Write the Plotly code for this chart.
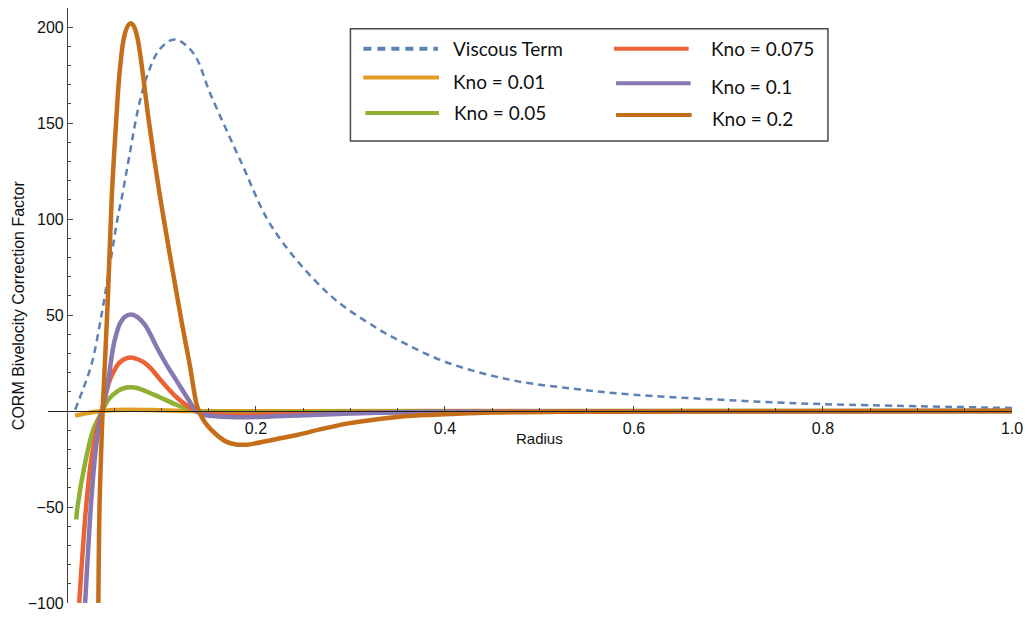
import plotly.graph_objects as go

# ---- Data: CORM bivelocity correction factor vs. radius ----
visc_r = [0.0087, 0.0168, 0.0263, 0.0368, 0.0456, 0.0543, 0.058, 0.0656, 0.0754, 0.0849,
          0.0982, 0.114, 0.1333, 0.1526, 0.1842, 0.2175, 0.277, 0.326, 0.351, 0.4,
          0.47, 0.54, 0.6, 0.68, 0.751, 0.8, 1.0]
visc_y = [0.7, 11.0, 24.8, 50.6, 76.5, 102.3, 111.0, 131.6, 157.5, 174.7,
          188.5, 193.6, 186.8, 164.3, 129.9, 95.5, 61.0, 43.8, 36.9, 25.7,
          16.2, 11.4, 8.5, 6.2, 4.5, 3.6, 1.6]

kno001_r = [0.0087, 0.02, 0.03, 0.0375, 0.05, 0.0677, 0.09, 0.137, 0.2, 0.4, 1.0]
kno001_y = [-2.4, -1.2, -0.4, 0.0, 0.5, 0.7, 0.5, 0.0, -0.1, 0.0, 0.0]

kno005_r = [0.0098, 0.0112, 0.0193, 0.028, 0.0375, 0.0438, 0.054, 0.060, 0.0677, 0.075,
            0.0842, 0.0982, 0.1158, 0.1355, 0.145, 0.16, 0.2, 0.3, 0.5, 1.0]
kno005_y = [-56.5, -50.0, -26.9, -9.6, 0.0, 5.9, 10.5, 11.9, 12.4, 11.9,
            10.2, 7.2, 3.3, 0.0, -0.5, -0.6, -0.7, -0.3, -0.05, 0.0]

kno0075_r = [0.013, 0.0203, 0.0253, 0.0316, 0.037, 0.0456, 0.050, 0.0543, 0.060, 0.0677,
             0.075, 0.082, 0.090, 0.098, 0.107, 0.116, 0.128, 0.1355, 0.143, 0.155,
             0.2, 0.28, 0.4, 1.0]
kno0075_y = [-100.0, -50.0, -26.9, -9.6, 0.0, 16.4, 21.0, 24.5, 26.9, 27.9,
             27.0, 25.2, 21.6, 16.8, 11.8, 7.2, 2.5, 0.0, -1.1, -1.6,
             -1.9, -1.0, -0.3, 0.0]

kno01_r = [0.0193, 0.0253, 0.0291, 0.0333, 0.0372, 0.0438, 0.049, 0.0525, 0.056, 0.0605,
           0.0677, 0.075, 0.0824, 0.0885, 0.0947, 0.105, 0.1158, 0.1285, 0.1345, 0.139,
           0.145, 0.16, 0.19, 0.25, 0.32, 0.4, 0.6, 1.0]
kno01_y = [-100.0, -50.0, -26.9, -9.6, 0.0, 16.4, 33.4, 40.5, 45.5, 48.8,
           50.3, 48.8, 45.0, 39.8, 33.6, 24.5, 16.0, 6.0, 1.5, -0.6,
           -1.9, -2.8, -3.2, -2.2, -1.0, -0.4, -0.1, 0.0]

kno02_r = [0.0333, 0.0345, 0.0362, 0.0378, 0.0431, 0.0474, 0.052, 0.0555, 0.0598, 0.063,
           0.0655, 0.0677, 0.070, 0.0725, 0.075, 0.0775, 0.080, 0.087, 0.0975, 0.1105,
           0.1214, 0.130, 0.1375, 0.141, 0.147, 0.158, 0.168, 0.179, 0.19, 0.2,
           0.22, 0.2456, 0.27, 0.298, 0.33, 0.36, 0.4, 0.45, 0.52, 0.6,
           0.8, 1.0]
kno02_y = [-100.0, -50.0, -22.0, 0.0, 56.0, 111.0, 150.0, 175.0, 193.0, 199.2,
           201.4, 202.0, 201.2, 198.4, 193.5, 186.0, 177.0, 150.0, 115.0, 77.0,
           46.5, 24.0, 3.0, -1.5, -6.5, -12.2, -15.8, -17.4, -17.5, -16.8,
           -14.8, -12.2, -9.3, -6.4, -4.2, -2.6, -1.6, -0.8, -0.4, -0.2,
           -0.05, 0.0]

series = [
    ("Viscous Term", visc_r, visc_y, "#5E81B5", 2.5, "7px,5px"),
    ("Kno = 0.01", kno001_r, kno001_y, "#E19C24", 4.5, "solid"),
    ("Kno = 0.05", kno005_r, kno005_y, "#8FB032", 4.5, "solid"),
    ("Kno = 0.075", kno0075_r, kno0075_y, "#EB6235", 4.5, "solid"),
    ("Kno = 0.1", kno01_r, kno01_y, "#8778B3", 4.5, "solid"),
    ("Kno = 0.2", kno02_r, kno02_y, "#C56E1A", 4.5, "solid"),
]

x_major = [0.2, 0.4, 0.6, 0.8, 1.0]
x_major_text = ["0.2", "0.4", "0.6", "0.8", "1.0"]
y_major = [-100, -50, 50, 100, 150, 200]
y_major_text = ["\u2212100", "\u221250", "50", "100", "150", "200"]

X_RANGE = [-0.02, 1.0]
Y_RANGE = [-100, 210]

# ---- Figure geometry (pixels) ----
W, H = 1031, 620
ML, MR, MT, MB = 48, 14, 8, 12
PW, PH = W - ML - MR, H - MT - MB


def paper(px, py):
    """Pixel position on the page -> paper coordinates."""
    return (px - ML) / PW, (H - MB - py) / PH


fig = go.Figure()
for name, r, y, color, width, dash in series:
    fig.add_trace(go.Scatter(
        x=r, y=y, mode="lines", name=name,
        line=dict(color=color, width=width, dash=dash, shape="spline", smoothing=1.0),
        showlegend=False, hoverinfo="skip",
    ))

# minor tick positions (every 0.05 on x, every 10 on y, major ones excluded)
x_minor = [k * 0.05 for k in range(1, 20) if k % 4 != 0]
y_minor = [v for v in range(-90, 210, 10) if v % 50 != 0]

tick_font = dict(family="Liberation Sans, Arial, sans-serif", size=16, color="#111111")
axis_col = "#444444"

fig.update_layout(
    width=W, height=H,
    margin=dict(l=ML, r=MR, t=MT, b=MB, pad=0),
    paper_bgcolor="white", plot_bgcolor="white",
    xaxis=dict(
        range=X_RANGE, anchor="free",
        position=(0 - Y_RANGE[0]) / (Y_RANGE[1] - Y_RANGE[0]),
        showgrid=False, zeroline=False,
        showline=True, linecolor="#222222", linewidth=1,
        tickmode="array", tickvals=x_major, ticktext=x_major_text,
        ticks="inside", ticklen=5, tickwidth=1, tickcolor=axis_col,
        tickfont=tick_font, ticklabelstandoff=3,
        minor=dict(tickmode="array", tickvals=x_minor, ticks="inside",
                   ticklen=3, tickwidth=1, tickcolor=axis_col, showgrid=False),
    ),
    yaxis=dict(
        range=Y_RANGE, anchor="free",
        position=(0 - X_RANGE[0]) / (X_RANGE[1] - X_RANGE[0]),
        showgrid=False, zeroline=False,
        showline=True, linecolor=axis_col, linewidth=1,
        tickmode="array", tickvals=y_major, ticktext=y_major_text,
        ticks="inside", ticklen=5, tickwidth=1, tickcolor=axis_col,
        tickfont=tick_font,
        minor=dict(tickmode="array", tickvals=y_minor, ticks="inside",
                   ticklen=3, tickwidth=1, tickcolor=axis_col, showgrid=False),
    ),
)

# axis titles
rx, ry = paper(541.7, 441.7)
fig.add_annotation(x=rx, y=ry, xref="paper", yref="paper", text="Radius",
                   showarrow=False, xanchor="center", yanchor="middle",
                   font=dict(family="Liberation Sans, Arial, sans-serif", size=15, color="#111111"))
tx, ty = paper(18, 307.5)
fig.add_annotation(x=tx, y=ty, xref="paper", yref="paper",
                   text="CORM Bivelocity Correction Factor", textangle=-90,
                   showarrow=False, xanchor="center", yanchor="middle",
                   font=dict(family="Liberation Sans, Arial, sans-serif", size=16, color="#111111"))

# ---- Legend box (two columns, three rows) ----
x0, y0 = paper(352, 29)
x1, y1 = paper(832, 142)
fig.add_shape(type="rect", xref="paper", yref="paper", x0=x0, y0=y1, x1=x1, y1=y0,
              line=dict(color="#4a4a4a", width=1.5), fillcolor="white", layer="above")

legend_slots = [
    (365, 440, 49, 453, 49),
    (365, 441, 78, 453, 82),
    (367, 441, 114, 454, 113),
    (617, 692, 49, 712, 49),
    (619, 694, 84, 712, 87),
    (619, 695, 116, 713, 119),
]
for (name, _, _, color, width, dash), (lx0, lx1, ly, tx_, ty_) in zip(series, legend_slots):
    ax0, ay = paper(lx0, ly)
    ax1, _ = paper(lx1, ly)
    fig.add_shape(type="line", xref="paper", yref="paper", x0=ax0, x1=ax1, y0=ay, y1=ay,
                  line=dict(color=color, width=4,
                            dash="8px,6px" if dash != "solid" else "solid"),
                  layer="above")
    lx, lyp = paper(tx_, ty_)
    fig.add_annotation(x=lx, y=lyp, xref="paper", yref="paper", text=name,
                       showarrow=False, xanchor="left", yanchor="middle",
                       font=dict(family="Lato, Open Sans, sans-serif", size=19, color="#111111"))

fig.write_html("out.html")
